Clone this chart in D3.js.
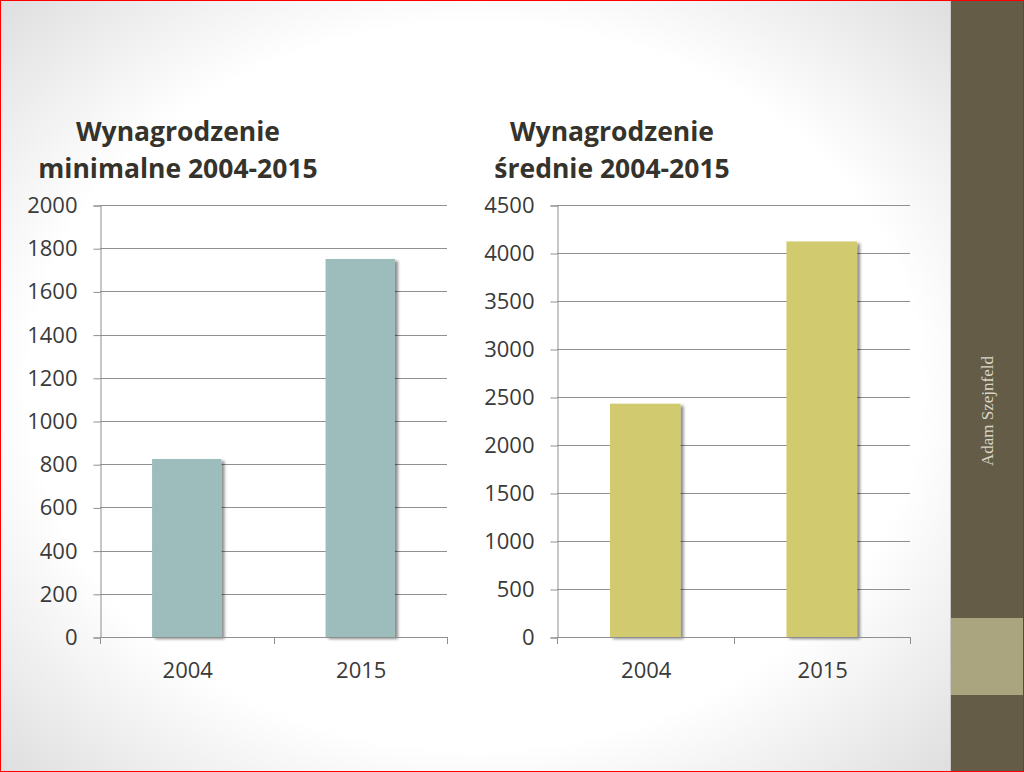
<!DOCTYPE html>
<html>
<head>
<meta charset="utf-8">
<script src="https://cdn.jsdelivr.net/npm/d3@7"></script>
<style>
  html, body { margin: 0; padding: 0; overflow: hidden; }
  svg { display: block; }
</style>
</head>
<body>
<svg id="slide" width="1024" height="772"></svg>
<script>
// data
const years = ['2004', '2015'];
const minWage = [824, 1750];
const avgWage = [2430, 4120];
const minTicks = [0, 200, 400, 600, 800, 1000, 1200, 1400, 1600, 1800, 2000];
const avgTicks = [0, 500, 1000, 1500, 2000, 2500, 3000, 3500, 4000, 4500];
const minTitle = ['Wynagrodzenie', 'minimalne 2004-2015'];
const avgTitle = ['Wynagrodzenie', 'średnie 2004-2015'];
const author = 'Adam Szejnfeld';

(function() {

  let svg = d3.select('#slide');
  let W = 1024, H = 772, sideX = 951;

  let defs = svg.append('defs');
  // white slide with grey corners
  let grad = defs.append('radialGradient')
    .attr('id', 'bg')
    .attr('cx', '50%').attr('cy', '50%').attr('r', '71%');
  grad.append('stop').attr('offset', '66%').attr('stop-color', '#ffffff');
  grad.append('stop').attr('offset', '100%').attr('stop-color', '#dedede');

  let shadow = defs.append('filter')
    .attr('id', 'shadow')
    .attr('x', '-20%').attr('y', '-10%').attr('width', '150%').attr('height', '130%');
  shadow.append('feDropShadow')
    .attr('dx', 3).attr('dy', 2)
    .attr('stdDeviation', 1.8)
    .attr('flood-color', '#000')
    .attr('flood-opacity', 0.45);

  // slide background
  svg.append('rect')
    .attr('width', sideX).attr('height', H)
    .attr('fill', 'url(#bg)');

  // right side bar
  svg.append('rect')
    .attr('x', sideX).attr('width', W - sideX).attr('height', H)
    .attr('fill', '#655c48');
  svg.append('rect')
    .attr('x', sideX).attr('y', 618).attr('width', W - sideX).attr('height', 77)
    .attr('fill', '#aaa57f');
  svg.append('line')
    .attr('x1', sideX - 0.5).attr('x2', sideX - 0.5).attr('y1', 0).attr('y2', H)
    .attr('stroke', '#c9c9c9');
  svg.append('text')
    .attr('transform', `translate(993, 411) rotate(-90)`)
    .attr('text-anchor', 'middle')
    .attr('font-family', '"Liberation Serif", "DejaVu Serif", serif')
    .attr('font-size', '17px')
    .attr('fill', '#d9d5c2')
    .text(author);

  drawChart({
    values: minWage, ticks: minTicks, title: minTitle, color: '#9dbdbd',
    left: 100, right: 447, top: 205, bottom: 637, titleX: 178
  });
  drawChart({
    values: avgWage, ticks: avgTicks, title: avgTitle, color: '#d1ca6e',
    left: 557, right: 910, top: 205, bottom: 637, titleX: 612
  });

  // red frame
  svg.append('rect')
    .attr('x', 0.5).attr('y', 0.5).attr('width', W - 1).attr('height', H - 1)
    .attr('fill', 'none').attr('stroke', '#ff0000');

  function drawChart(c) {
    let g = svg.append('g');
    let xScale = d3.scaleBand()
      .domain(years)
      .range([c.left, c.right])
      .paddingInner(0.6)
      .paddingOuter(0.3);
    let yScale = d3.scaleLinear()
      .domain([0, d3.max(c.ticks)])
      .range([c.bottom, c.top]);

    // title
    c.title.forEach((t, i) => {
      g.append('text')
        .attr('x', c.titleX)
        .attr('y', 141 + i * 37)
        .attr('text-anchor', 'middle')
        .attr('font-family', '"Open Sans", sans-serif')
        .attr('font-weight', 700)
        .attr('font-size', '26.5px')
        .attr('fill', '#35332b')
        .text(t);
    });

    // gridlines
    g.append('g')
      .selectAll('line')
      .data(c.ticks.filter((d) => d > 0))
      .join('line')
        .attr('x1', c.left).attr('x2', c.right)
        .attr('y1', (d) => Math.round(yScale(d)) + 0.5)
        .attr('y2', (d) => Math.round(yScale(d)) + 0.5)
        .attr('stroke', '#8f8f8f');

    // y axis
    let yAxis = g.append('g')
      .attr('transform', `translate(${c.left + 0.5}, 0.5)`)
      .call(d3.axisLeft(yScale).tickValues(c.ticks).tickSize(7).tickPadding(16).tickFormat(d3.format('d')));
    yAxis.select('.domain').attr('stroke', '#8f8f8f');
    yAxis.selectAll('.tick line').attr('stroke', '#8f8f8f');
    yAxis.selectAll('.tick text')
      .attr('font-family', '"Open Sans", sans-serif')
      .attr('font-size', '22px')
      .attr('fill', '#3a3a3a');

    // bars
    g.append('g')
      .selectAll('rect')
      .data(c.values)
      .join('rect')
        .attr('x', (d, i) => xScale(years[i]))
        .attr('y', (d) => yScale(d))
        .attr('width', xScale.bandwidth())
        .attr('height', (d) => yScale(0) - yScale(d))
        .attr('fill', c.color)
        .attr('filter', 'url(#shadow)');

    // x axis
    let edges = [c.left, (c.left + c.right) / 2, c.right];
    g.append('line')
      .attr('x1', c.left).attr('x2', c.right)
      .attr('y1', c.bottom + 0.5).attr('y2', c.bottom + 0.5)
      .attr('stroke', '#8f8f8f');
    g.append('g')
      .selectAll('line')
      .data(edges)
      .join('line')
        .attr('x1', (d) => Math.round(d) + 0.5).attr('x2', (d) => Math.round(d) + 0.5)
        .attr('y1', c.bottom).attr('y2', c.bottom + 7)
        .attr('stroke', '#8f8f8f');
    g.append('g')
      .selectAll('text')
      .data(years)
      .join('text')
        .attr('x', (d) => xScale(d) + xScale.bandwidth() / 2 + 1)
        .attr('y', c.bottom + 41)
        .attr('text-anchor', 'middle')
        .attr('font-family', '"Open Sans", sans-serif')
        .attr('font-size', '22px')
        .attr('fill', '#3a3a3a')
        .text((d) => d);
  }

})();
</script>
</body>
</html>
